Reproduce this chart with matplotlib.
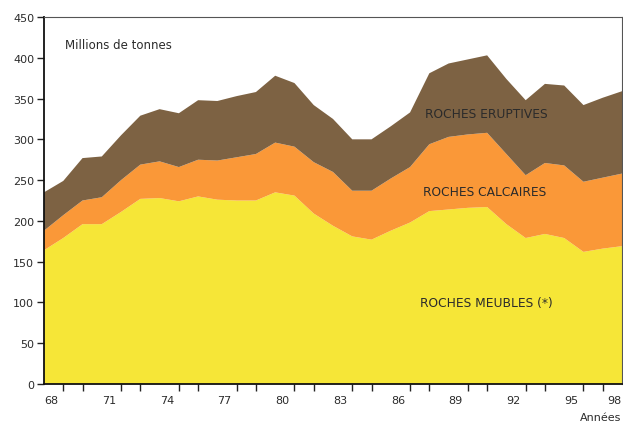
import matplotlib.pyplot as plt
from matplotlib.ticker import MultipleLocator

# production de granulats, millions de tonnes
years = list(range(1968, 1999))
meubles = [164, 179, 196, 196, 211, 227, 228, 224, 230, 226, 225, 225, 235, 231, 209, 194,
           181, 177, 188, 198, 212, 214, 216, 217, 196, 179, 184, 179, 162, 166, 169]
calcaires = [24, 28, 29, 33, 39, 42, 45, 42, 45, 48, 53, 57, 61, 60, 63, 66,
             56, 60, 64, 68, 82, 89, 90, 91, 86, 77, 87, 89, 86, 87, 89]
eruptives = [47, 42, 52, 50, 55, 60, 64, 66, 73, 73, 75, 76, 82, 78, 70, 65,
             63, 63, 64, 67, 87, 90, 92, 95, 92, 92, 97, 98, 94, 98, 101]

tick_years = [1968, 1971, 1974, 1977, 1980, 1983, 1986, 1989, 1992, 1995, 1998]
tick_labels = ["68", "71", "74", "77", "80", "83", "86", "89", "92", "95", "98"]

colors = ["#F6E637", "#FA9838", "#7D6243"]
txt = "#2b2b2b"

fig = plt.figure(figsize=(6.23, 4.27), dpi=100)
ax = fig.add_axes([44 / 623, 42 / 427, 578 / 623, 367 / 427])

ax.stackplot(years, meubles, calcaires, eruptives, colors=colors, linewidth=0)

ax.set_xlim(1968, 1998)
ax.set_ylim(0, 450)
ax.yaxis.set_major_locator(MultipleLocator(50))

ax.set_xticks(tick_years)
ax.set_xticklabels(tick_labels)
for lab in ax.get_xticklabels():
    lab.set_horizontalalignment("left")
ax.get_xticklabels()[-1].set_horizontalalignment("right")
ax.xaxis.set_minor_locator(MultipleLocator(1))
ax.tick_params(axis="x", which="major", length=0, pad=8, labelsize=8, colors=txt)
ax.tick_params(axis="x", which="minor", length=5, width=1, color="#222")
ax.tick_params(axis="y", length=5, width=1, labelsize=8, colors=txt, pad=2)
ax.tick_params(axis="y", color="#222")

for s in ["left", "bottom"]:
    ax.spines[s].set_color("#111")
    ax.spines[s].set_linewidth(1.3)
for s in ["top", "right"]:
    ax.spines[s].set_color("#555")
    ax.spines[s].set_linewidth(0.8)

ax.text(0.037, 0.924, "Millions de tonnes", transform=ax.transAxes, fontsize=8.5,
        color=txt, va="center")
ax.text(1987.75, 332, "ROCHES ERUPTIVES", fontsize=8.8, color=txt, va="center")
ax.text(1987.65, 236, "ROCHES CALCAIRES", fontsize=8.8, color=txt, va="center")
ax.text(1987.5, 100, "ROCHES MEUBLES (*)", fontsize=8.8, color=txt, va="center")

fig.text(621 / 623, 1 - 413 / 427, "Années", fontsize=8, color=txt, va="top", ha="right")

fig.savefig("out.png", dpi=100)
